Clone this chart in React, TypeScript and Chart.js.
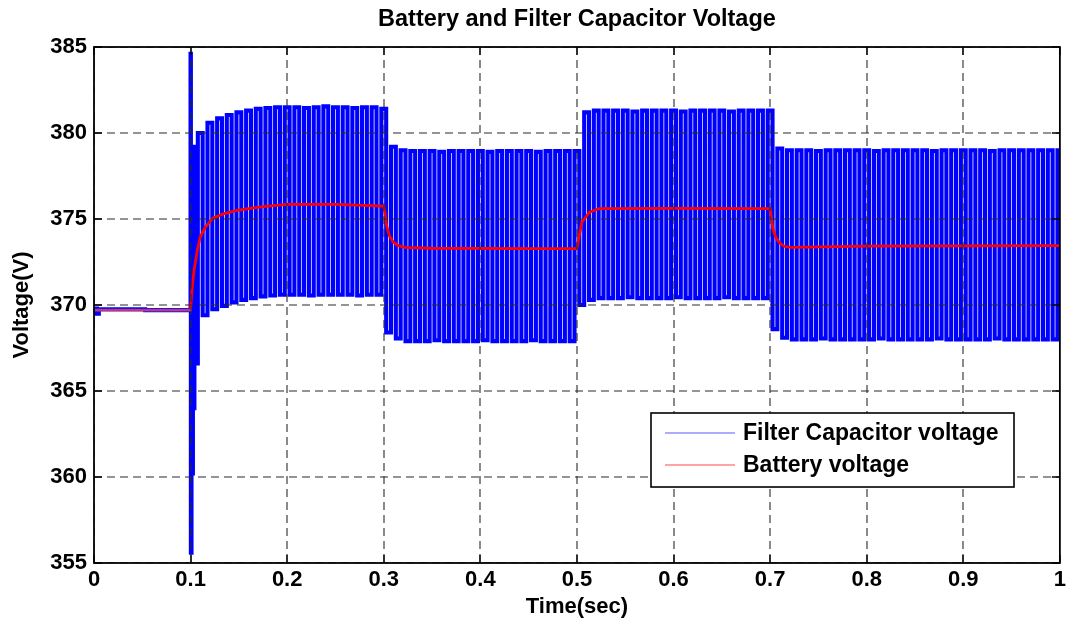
import React, { useEffect, useRef } from "react";
import { Chart, registerables } from "chart.js";

Chart.register(...registerables);

const TITLE = "Battery and Filter Capacitor Voltage";
const X_LABEL = "Time(sec)";
const Y_LABEL = "Voltage(V)";
const CAP_LABEL = "Filter Capacitor voltage";
const BAT_LABEL = "Battery voltage";

const xTickValues = [0, 0.1, 0.2, 0.3, 0.4, 0.5, 0.6, 0.7, 0.8, 0.9, 1];
const xTickLabels = ["0", "0.1", "0.2", "0.3", "0.4", "0.5", "0.6", "0.7", "0.8", "0.9", "1"];
const yTickValues = [355, 360, 365, 370, 375, 380, 385];
const yTickLabels = ["355", "360", "365", "370", "375", "380", "385"];

// Filter capacitor voltage: flat start before the load step
const capStartTimes = [0, 0.002, 0.004, 0.006, 0.0999];
const capStartValues = [369.55, 369.8, 369.5, 369.75, 369.7];

// Filter capacitor voltage: transient spike at t = 0.1 s
const capSpikeTimes = [0.1, 0.1006, 0.1013, 0.102, 0.1028, 0.1036, 0.1043];
const capSpikeValues = [384.6, 355.6, 378.2, 360.2, 378.8, 364.0, 379.2];

// Ripple peaks at t = 0.11, 0.12, ... 1.00
const capPeaks = [
  380.0, 380.6, 380.85, 381.05, 381.2, 381.3, 381.4, 381.45, 381.5,
  381.5, 381.5, 381.45, 381.5, 381.55, 381.5, 381.5, 381.45, 381.5, 381.5,
  381.4,
  379.2, 379.0,
  378.95, 378.95, 378.95, 378.9, 378.95, 378.95, 378.95, 378.95, 378.9,
  378.95, 378.95, 378.95, 378.95, 378.9, 378.95, 378.95, 378.95, 378.95,
  381.2, 381.3,
  381.3, 381.3, 381.3, 381.25, 381.3, 381.3, 381.3, 381.3, 381.25,
  381.3, 381.3, 381.3, 381.3, 381.25, 381.3, 381.3, 381.3, 381.3,
  379.1,
  379.0, 379.0, 379.0, 378.95, 379.0, 379.0, 379.0, 379.0, 379.0, 378.95,
  379.0, 379.0, 379.0, 379.0, 379.0, 378.95, 379.0, 379.0, 379.0, 379.0,
  379.0, 378.95, 379.0, 379.0, 379.0, 379.0, 379.0, 379.0, 379.0,
];

// Ripple troughs at t = 0.105, 0.115, ... 0.995
const capTroughs = [
  366.6, 369.4, 369.75, 369.95, 370.15, 370.3, 370.4, 370.5, 370.55,
  370.6, 370.6, 370.6, 370.55, 370.6, 370.6, 370.6, 370.6, 370.55, 370.6, 370.6,
  368.4, 368.05,
  367.9, 367.9, 367.9, 367.95, 367.9, 367.9, 367.9, 367.9, 367.95,
  367.9, 367.9, 367.9, 367.9, 367.95, 367.9, 367.9, 367.9, 367.9,
  370.0, 370.3,
  370.4, 370.4, 370.4, 370.45, 370.4, 370.4, 370.4, 370.4, 370.45,
  370.4, 370.4, 370.4, 370.4, 370.45, 370.4, 370.4, 370.4, 370.4,
  368.6, 368.1,
  368.0, 368.0, 368.0, 368.05, 368.0, 368.0, 368.0, 368.0, 368.0, 368.05,
  368.0, 368.0, 368.0, 368.0, 368.0, 368.05, 368.0, 368.0, 368.0, 368.0,
  368.0, 368.05, 368.0, 368.0, 368.0, 368.0, 368.0, 368.0,
];
const peakStartTime = 0.11;
const troughStartTime = 0.105;
const rippleStep = 0.01;

// Battery voltage
const batTimes = [
  0, 0.0999, 0.1, 0.1015, 0.1035, 0.107, 0.11, 0.115, 0.123, 0.134, 0.148, 0.165, 0.18, 0.2, 0.25,
  0.3, 0.3015, 0.303, 0.306, 0.31, 0.315, 0.322, 0.35, 0.45,
  0.5, 0.5025, 0.505, 0.513, 0.523, 0.6,
  0.7, 0.7015, 0.703, 0.706, 0.71, 0.715, 0.722, 0.8, 1.0,
];
const batValues = [
  369.7, 369.7, 369.8, 370.9, 372.0, 373.2, 373.95, 374.5, 375.05, 375.3, 375.5, 375.65, 375.75, 375.85, 375.85,
  375.75, 375.2, 374.6, 374.0, 373.65, 373.45, 373.35, 373.3, 373.28,
  373.28, 374.05, 374.8, 375.4, 375.6, 375.62,
  375.6, 375.0, 374.4, 373.9, 373.6, 373.4, 373.35, 373.42, 373.45,
];

const FONT = "'Liberation Sans', Arial, Helvetica, sans-serif";

function buildCapData() {
  const pts: { x: number; y: number }[] = [];
  capStartTimes.forEach((t, i) => pts.push({ x: t, y: capStartValues[i] }));
  capSpikeTimes.forEach((t, i) => pts.push({ x: t, y: capSpikeValues[i] }));
  for (let i = 0; i < capTroughs.length; i++) {
    pts.push({ x: troughStartTime + i * rippleStep, y: capTroughs[i] });
    if (i < capPeaks.length) pts.push({ x: peakStartTime + i * rippleStep, y: capPeaks[i] });
  }
  return pts;
}

const matlabPlugin = {
  id: "matlabDecor",
  afterDatasetsDraw(chart: any) {
    const { ctx, chartArea: a, scales } = chart;
    const xs = scales.x;
    const ys = scales.y;
    ctx.save();
    // dashed grid
    ctx.beginPath();
    ctx.rect(a.left, a.top, a.right - a.left, a.bottom - a.top);
    ctx.clip();
    ctx.setLineDash([8, 5]);
    ctx.strokeStyle = "#2a2a2a";
    ctx.lineWidth = 1.1;
    ctx.beginPath();
    xTickValues.forEach((v) => {
      const px = Math.round(xs.getPixelForValue(v));
      ctx.moveTo(px, a.top);
      ctx.lineTo(px, a.bottom);
    });
    yTickValues.forEach((v) => {
      const py = Math.round(ys.getPixelForValue(v));
      ctx.moveTo(a.left, py);
      ctx.lineTo(a.right, py);
    });
    ctx.stroke();
    ctx.restore();

    ctx.save();
    ctx.setLineDash([]);
    ctx.strokeStyle = "#000";
    ctx.lineWidth = 1.3;
    const tl = 8;
    ctx.beginPath();
    xTickValues.forEach((v) => {
      const px = Math.round(xs.getPixelForValue(v));
      ctx.moveTo(px, a.bottom);
      ctx.lineTo(px, a.bottom - tl);
      ctx.moveTo(px, a.top);
      ctx.lineTo(px, a.top + tl);
    });
    yTickValues.forEach((v) => {
      const py = Math.round(ys.getPixelForValue(v));
      ctx.moveTo(a.left, py);
      ctx.lineTo(a.left + tl, py);
      ctx.moveTo(a.right, py);
      ctx.lineTo(a.right - tl, py);
    });
    ctx.stroke();
    ctx.lineWidth = 1.8;
    ctx.strokeRect(a.left, a.top, a.right - a.left, a.bottom - a.top);

    // legend box
    const lx = 651, ly = 413, lw = 363, lh = 74;
    ctx.fillStyle = "#fff";
    ctx.fillRect(lx, ly, lw, lh);
    ctx.lineWidth = 1.6;
    ctx.strokeStyle = "#000";
    ctx.strokeRect(lx, ly, lw, lh);
    const ds = chart.data.datasets;
    const rows = [ds[0], ds[1]];
    ctx.font = `bold 23px ${FONT}`;
    ctx.textBaseline = "middle";
    ctx.textAlign = "left";
    rows.forEach((d: any, i: number) => {
      const yy = ly + 20 + i * 32;
      ctx.strokeStyle = d.legendColor;
      ctx.lineWidth = 1.2;
      ctx.beginPath();
      ctx.moveTo(665, yy);
      ctx.lineTo(735, yy);
      ctx.stroke();
      ctx.fillStyle = "#000";
      ctx.fillText(d.label, 743, yy + 1);
    });

    // title
    ctx.font = `bold 23.5px ${FONT}`;
    ctx.textAlign = "center";
    ctx.fillStyle = "#000";
    ctx.fillText(TITLE, (a.left + a.right) / 2, 20);
    ctx.restore();
  },
};

export default function App() {
  const ref = useRef<HTMLCanvasElement | null>(null);
  useEffect(() => {
    if (!ref.current) return;
    const tickFont = { family: FONT, size: 22, weight: "bold" as const };
    const chart = new Chart(ref.current, {
      type: "line",
      data: {
        datasets: [
          {
            label: CAP_LABEL,
            data: buildCapData(),
            borderColor: "#0000ff",
            legendColor: "#5a5aff",
            borderWidth: 4.1,
            stepped: "middle",
            pointRadius: 0,
            tension: 0,
            order: 2,
          } as any,
          {
            label: BAT_LABEL,
            data: batTimes.map((t, i) => ({ x: t, y: batValues[i] })),
            borderColor: "#ff0000",
            legendColor: "#ff4a4a",
            borderWidth: 2.8,
            pointRadius: 0,
            tension: 0,
            order: 1,
            segment: {
              borderColor: (c: any) => (c.p1.parsed.x <= 0.1 ? "#bb3a7e" : "#ff0000"),
            },
          } as any,
        ],
      },
      options: {
        animation: false,
        responsive: false,
        devicePixelRatio: 1,
        events: [],
        layout: { padding: { left: 0, right: 10, top: 47, bottom: 0 } },
        plugins: { legend: { display: false }, title: { display: false }, tooltip: { enabled: false } },
        scales: {
          x: {
            type: "linear",
            min: 0,
            max: 1,
            afterBuildTicks: (s: any) => {
              s.ticks = xTickValues.map((v) => ({ value: v }));
            },
            afterFit: (s: any) => {
              s.height = 65;
            },
            grid: { display: false, drawTicks: false },
            border: { display: false },
            ticks: {
              autoSkip: false,
              maxRotation: 0,
              padding: 4,
              color: "#000",
              font: tickFont,
              callback: (_v: any, i: number) => xTickLabels[i],
            },
            title: { display: true, text: X_LABEL, color: "#000", font: tickFont, padding: { top: 0, bottom: 8 } },
          },
          y: {
            type: "linear",
            min: 355,
            max: 385,
            afterBuildTicks: (s: any) => {
              s.ticks = yTickValues.map((v) => ({ value: v }));
            },
            afterFit: (s: any) => {
              s.width = 94;
            },
            grid: { display: false, drawTicks: false },
            border: { display: false },
            ticks: {
              autoSkip: false,
              padding: 7,
              color: "#000",
              font: tickFont,
              callback: (_v: any, i: number) => yTickLabels[i],
            },
            title: { display: true, text: Y_LABEL, color: "#000", font: tickFont, padding: { top: 9, bottom: 0 } },
          },
        },
      },
      plugins: [matlabPlugin],
    });
    return () => chart.destroy();
  }, []);
  return (
    <div style={{ position: "fixed", left: 0, top: 0, width: 1070, height: 628, background: "#fff" }}>
      <canvas ref={ref} width={1070} height={628} style={{ display: "block" }} />
    </div>
  );
}
